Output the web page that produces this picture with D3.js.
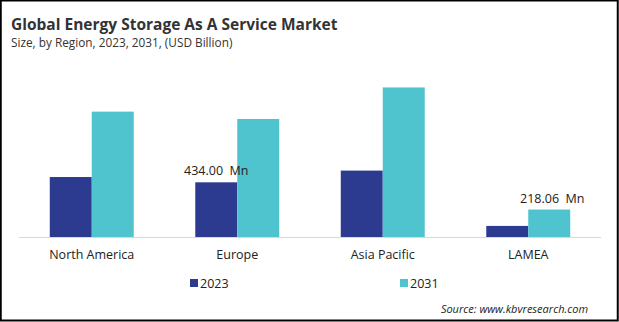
<!DOCTYPE html>
<html>
<head>
<meta charset="utf-8">
<script src="https://cdn.jsdelivr.net/npm/d3@7"></script>
<style>
  body { margin: 0; background: #fff; }
  svg { display: block; font-family: "Open Sans", "Noto Sans", sans-serif; }
</style>
</head>
<body>
<div id="chart"></div>
<script>
// market size by region, USD billion
var regions = ["North America", "Europe", "Asia Pacific", "LAMEA"];
var years = ["2023", "2031"];
var values2023 = [0.476, 0.434, 0.527, 0.088];
var values2031 = [0.995, 0.937, 1.187, 0.21806];
// value labels shown above selected bars: [region index, year index, text]
var valueLabels = [[1, 0, "434.00\u00a0 Mn"], [3, 1, "218.06\u00a0 Mn"]];

var colors = ["#2c3a8f", "#4fc4cf"];

var W = 619, H = 322;
var baseY = 237;

var svg = d3.select("#chart").append("svg")
    .attr("width", W)
    .attr("height", H);

svg.append("rect")
    .attr("x", 0.75).attr("y", 0.5)
    .attr("width", W - 2).attr("height", H - 2)
    .attr("fill", "#fff")
    .attr("stroke", "#000")
    .attr("stroke-width", 2);

svg.append("text")
    .attr("x", 11).attr("y", 30)
    .attr("font-size", 15.5)
    .attr("font-weight", "bold")
    .attr("fill", "#333")
    .text("Global Energy Storage As A Service Market");

svg.append("text")
    .attr("x", 11).attr("y", 47)
    .attr("font-size", 11.8)
    .attr("fill", "#333")
    .text("Size, by Region, 2023, 2031, (USD Billion)");

var x0 = d3.scaleBand()
    .domain(regions)
    .range([19, 601])
    .paddingInner(0.423)
    .paddingOuter(0.2115);

var x1 = d3.scaleBand()
    .domain(years)
    .range([0, x0.bandwidth()]);

var y = d3.scaleLinear()
    .domain([0, 1.2])
    .range([baseY, baseY - 1.2 * 126]);

var rows = regions.map(function(r, i) {
    return { region: r, vals: [values2023[i], values2031[i]] };
});

var groups = svg.selectAll(".grp")
    .data(rows)
    .enter().append("g")
    .attr("class", "grp")
    .attr("transform", function(d) { return "translate(" + x0(d.region) + ",0)"; });

groups.selectAll("rect")
    .data(function(d) { return d.vals.map(function(v, j) { return { year: years[j], v: v, j: j }; }); })
    .enter().append("rect")
    .attr("x", function(d) { return x1(d.year); })
    .attr("y", function(d) { return y(d.v); })
    .attr("width", x1.bandwidth())
    .attr("height", function(d) { return baseY - y(d.v); })
    .attr("fill", function(d) { return colors[d.j]; });

// baseline axis
var xAxis = svg.append("g")
    .attr("transform", "translate(0," + baseY + ")")
    .call(d3.axisBottom(x0).tickSize(0).tickPadding(13));
xAxis.select(".domain").attr("stroke", "#d9d9d9").attr("d", "M19,0.5H601");
xAxis.selectAll("text")
    .attr("font-size", 12.5)
    .attr("fill", "#222")
    .style("font-family", "\"Open Sans\", sans-serif");

svg.selectAll(".vlabel")
    .data(valueLabels)
    .enter().append("text")
    .attr("class", "vlabel")
    .attr("x", function(d) { return x0(regions[d[0]]) + x1(years[d[1]]) + x1.bandwidth() / 2 + (d[1] ? 3 : 0); })
    .attr("y", function(d) { return y(rows[d[0]].vals[d[1]]) - 7; })
    .attr("text-anchor", "middle")
    .attr("font-size", 12.5)
    .attr("fill", "#222")
    .text(function(d) { return d[2]; });

// legend
var legendX = [190, 400];
var legend = svg.selectAll(".leg")
    .data(years)
    .enter().append("g")
    .attr("class", "leg")
    .attr("transform", function(d, i) { return "translate(" + legendX[i] + ",279)"; });
legend.append("rect")
    .attr("width", 8).attr("height", 8)
    .attr("fill", function(d, i) { return colors[i]; });
legend.append("text")
    .attr("x", 10).attr("y", 8.5)
    .attr("font-size", 12.5)
    .attr("fill", "#222")
    .text(function(d) { return d; });

svg.append("text")
    .attr("x", 588).attr("y", 313)
    .attr("text-anchor", "end")
    .attr("font-size", 11)
    .attr("font-style", "italic")
    .attr("fill", "#222")
    .text("Source: www.kbvresearch.com");
</script>
</body>
</html>
